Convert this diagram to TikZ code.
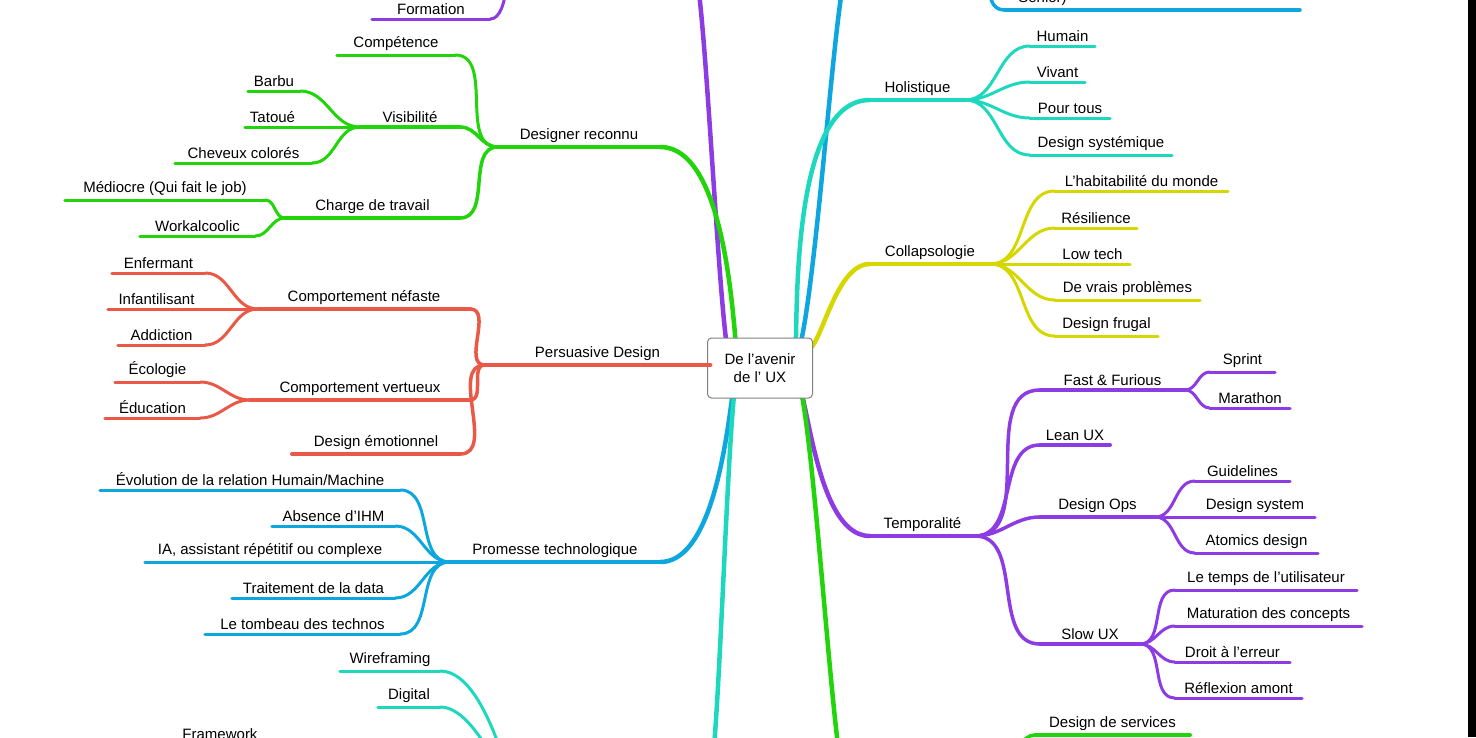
\documentclass[tikz,border=0pt]{standalone}
\usepackage{fontspec}
\setmainfont{Liberation Sans}
\usetikzlibrary{backgrounds,positioning}
\definecolor{cpurple}{RGB}{140,60,226}
\definecolor{cgreen}{RGB}{34,212,10}
\definecolor{cred}{RGB}{234,88,72}
\definecolor{cblue}{RGB}{14,166,222}
\definecolor{cteal}{RGB}{30,216,190}
\definecolor{cyellow}{RGB}{214,214,0}
\tikzset{
  lbl/.style={anchor=south,inner xsep=0pt,inner ysep=4pt,font=\fontsize{15}{17}\selectfont},
  main/.style={line width=4.5pt,line cap=round},
  sub/.style={line width=3.5pt,line cap=round},
  leaf/.style={line width=3pt,line cap=round},
}
% underlined topic: name, line style, x1, x2, y, text
\newcommand\topic[6]{%
  \node[lbl,minimum width=#4pt-#3pt] (#1) at ({(#3+#4)/2},#5) {#6};
  \draw[#2] (#1.south west) -- (#1.south east);}
% links to the left and to the right
\newcommand\lk[3]{\draw[#1] (#2.south west) to[out=180,in=0] (#3.south east);}
\newcommand\rk[3]{\draw[#1] (#2.south east) to[out=0,in=180] (#3.south west);}

\begin{document}
\begin{tikzpicture}[x=1pt,y=-1pt]
  \useasboundingbox (0,0) rectangle (1476,737);
  \clip (0,0) rectangle (1476,737);

  \node[draw=gray,rounded corners=4pt,fill=white,minimum width=105pt,minimum height=60pt,
        align=center,font=\fontsize{15}{18}\selectfont,line width=1pt] (ctr) at (760,368) {De l'avenir\\de l' UX};

  % left side
  \topic{formation}{leaf,cpurple}{372}{490}{19}{Formation}
  \coordinate (ptop) at (690,-10);
  \coordinate (pform) at (510,-30);

  \topic{designer}{main,cgreen}{498}{660}{147}{Designer reconnu}
  \topic{competence}{leaf,cgreen}{337}{455}{55}{Compétence}
  \topic{visibilite}{sub,cgreen}{360}{460}{127}{Visibilité}
  \topic{charge}{sub,cgreen}{285}{460}{218}{Charge de travail}
  \topic{barbu}{leaf,cgreen}{248}{300}{91}{Barbu}
  \topic{tatoue}{leaf,cgreen}{245}{300}{127}{Tatoué}
  \topic{cheveux}{leaf,cgreen}{175}{312}{163}{Cheveux colorés}
  \topic{mediocre}{leaf,cgreen}{65}{265}{200}{Médiocre (Qui fait le job)}
  \topic{workal}{leaf,cgreen}{140}{255}{236}{Workalcoolic}

  \topic{persuasive}{main,cred}{485}{710}{365}{Persuasive Design}
  \topic{nefaste}{sub,cred}{258}{470}{309}{Comportement néfaste}
  \topic{vertueux}{sub,cred}{250}{470}{400}{Comportement vertueux}
  \topic{emotion}{sub,cred}{292}{460}{454}{Design émotionnel}
  \topic{enfermant}{leaf,cred}{112}{205}{273}{Enfermant}
  \topic{infantil}{leaf,cred}{108}{205}{309}{Infantilisant}
  \topic{addiction}{leaf,cred}{118}{205}{345}{Addiction}
  \topic{ecologie}{leaf,cred}{115}{200}{382}{Écologie}
  \topic{education}{leaf,cred}{105}{200}{418}{Éducation}

  \topic{promesse}{main,cblue}{450}{660}{562}{Promesse technologique}
  \topic{evolution}{leaf,cblue}{100}{400}{490}{Évolution de la relation Humain/Machine}
  \topic{ihm}{leaf,cblue}{272}{395}{526}{Absence d'IHM}
  \topic{ia}{leaf,cblue}{145}{395}{562}{IA, assistant répétitif ou complexe}
  \topic{data}{leaf,cblue}{232}{395}{598}{Traitement de la data}
  \topic{tombeau}{leaf,cblue}{205}{400}{634}{Le tombeau des technos}

  \topic{wireframing}{leaf,cteal}{340}{440}{671}{Wireframing}
  \topic{digital}{leaf,cteal}{378}{440}{707}{Digital}
  \topic{framework}{leaf,cteal}{170}{270}{744}{Framework}
  \coordinate (tbot) at (705,760);
  \coordinate (tsub) at (520,790);

  % right side
  \topic{senior}{sub,cblue}{1005}{1080}{10}{Senior)}
  \coordinate (seniorend) at (1300,10);
  \coordinate (btop) at (852,-10);
  \coordinate (bsub) at (990,-40);

  \topic{holistique}{main,cteal}{870}{965}{100}{Holistique}
  \topic{humain}{leaf,cteal}{1030}{1095}{46}{Humain}
  \topic{vivant}{leaf,cteal}{1030}{1085}{82}{Vivant}
  \topic{pourtous}{leaf,cteal}{1030}{1110}{118}{Pour tous}
  \topic{systemique}{leaf,cteal}{1030}{1172}{155}{Design systémique}

  \topic{collapso}{main,cyellow}{870}{990}{264}{Collapsologie}
  \topic{habit}{leaf,cyellow}{1055}{1228}{191}{L'habitabilité du monde}
  \topic{resilience}{leaf,cyellow}{1055}{1137}{228}{Résilience}
  \topic{lowtech}{leaf,cyellow}{1055}{1130}{264}{Low tech}
  \topic{vrais}{leaf,cyellow}{1055}{1200}{300}{De vrais problèmes}
  \topic{frugal}{leaf,cyellow}{1055}{1158}{336}{Design frugal}

  \topic{tempo}{main,cpurple}{870}{975}{536}{Temporalité}
  \topic{fast}{sub,cpurple}{1040}{1185}{390}{Fast \& Furious}
  \topic{lean}{sub,cpurple}{1040}{1110}{445}{Lean UX}
  \topic{ops}{sub,cpurple}{1040}{1155}{517}{Design Ops}
  \topic{slow}{sub,cpurple}{1040}{1140}{644}{Slow UX}
  \topic{sprint}{leaf,cpurple}{1210}{1275}{372}{Sprint}
  \topic{marathon}{leaf,cpurple}{1210}{1290}{408}{Marathon}
  \topic{guidelines}{leaf,cpurple}{1195}{1290}{481}{Guidelines}
  \topic{dsystem}{leaf,cpurple}{1195}{1315}{517}{Design system}
  \topic{atomics}{leaf,cpurple}{1195}{1318}{553}{Atomics design}
  \topic{temps}{leaf,cpurple}{1175}{1357}{590}{Le temps de l'utilisateur}
  \topic{maturation}{leaf,cpurple}{1175}{1362}{626}{Maturation des concepts}
  \topic{droit}{leaf,cpurple}{1175}{1290}{662}{Droit à l'erreur}
  \topic{reflexion}{leaf,cpurple}{1175}{1302}{698}{Réflexion amont}

  \topic{services}{sub,cgreen}{1035}{1190}{735}{Design de services}
  \coordinate (gbot) at (850,760);
  \coordinate (gsub) at (1000,790);

  \begin{scope}[on background layer]
    % branches out of the centre
    \draw[main,cpurple] (ctr.north) ++(-25,5) to[out=-95,in=85] (ptop);
    \draw[main,cgreen] (ctr.north) ++(-20,5) to[out=-95,in=0] (designer.south east);
    \draw[main,cblue] (ctr.south) ++(-22,-5) to[out=95,in=0] (promesse.south east);
    \draw[main,cteal] (ctr.south) ++(-18,-5) to[out=95,in=-85] (tbot);
    \draw[main,cblue] (ctr.north) ++(25,5) to[out=-80,in=95] (btop);
    \draw[main,cteal] (ctr.north) ++(30,5) to[out=-80,in=180] (holistique.south west);
    \draw[main,cyellow] (ctr.north) ++(40,5) to[out=-65,in=180] (collapso.south west);
    \draw[main,cpurple] (ctr.south) ++(30,-5) to[out=75,in=180] (tempo.south west);
    \draw[main,cgreen] (ctr.south) ++(28,-5) to[out=82,in=-95] (gbot);
    % left links
    \draw[leaf,cpurple] (formation.south east) to[out=0,in=100] (pform);
    \lk{leaf,cgreen}{designer}{competence}
    \lk{sub,cgreen}{designer}{visibilite}
    \lk{sub,cgreen}{designer}{charge}
    \lk{leaf,cgreen}{visibilite}{barbu}
    \lk{leaf,cgreen}{visibilite}{tatoue}
    \lk{leaf,cgreen}{visibilite}{cheveux}
    \lk{leaf,cgreen}{charge}{mediocre}
    \lk{leaf,cgreen}{charge}{workal}
    \lk{sub,cred}{persuasive}{nefaste}
    \lk{sub,cred}{persuasive}{vertueux}
    \lk{sub,cred}{persuasive}{emotion}
    \lk{leaf,cred}{nefaste}{enfermant}
    \lk{leaf,cred}{nefaste}{infantil}
    \lk{leaf,cred}{nefaste}{addiction}
    \lk{leaf,cred}{vertueux}{ecologie}
    \lk{leaf,cred}{vertueux}{education}
    \lk{leaf,cblue}{promesse}{evolution}
    \lk{leaf,cblue}{promesse}{ihm}
    \lk{leaf,cblue}{promesse}{ia}
    \lk{leaf,cblue}{promesse}{data}
    \lk{leaf,cblue}{promesse}{tombeau}
    \draw[leaf,cteal] (tsub) to[out=-90,in=0] (wireframing.south east);
    \draw[leaf,cteal] (tsub) to[out=-90,in=0] (digital.south east);
    % right links
    \draw[sub,cblue] (bsub) to[out=-90,in=180] (senior.south west);
    \draw[sub,cblue] (senior.south east) -- (seniorend);
    \rk{leaf,cteal}{holistique}{humain}
    \rk{leaf,cteal}{holistique}{vivant}
    \rk{leaf,cteal}{holistique}{pourtous}
    \rk{leaf,cteal}{holistique}{systemique}
    \rk{leaf,cyellow}{collapso}{habit}
    \rk{leaf,cyellow}{collapso}{resilience}
    \rk{leaf,cyellow}{collapso}{lowtech}
    \rk{leaf,cyellow}{collapso}{vrais}
    \rk{leaf,cyellow}{collapso}{frugal}
    \rk{sub,cpurple}{tempo}{fast}
    \rk{sub,cpurple}{tempo}{lean}
    \rk{sub,cpurple}{tempo}{ops}
    \rk{sub,cpurple}{tempo}{slow}
    \rk{leaf,cpurple}{fast}{sprint}
    \rk{leaf,cpurple}{fast}{marathon}
    \rk{leaf,cpurple}{ops}{guidelines}
    \rk{leaf,cpurple}{ops}{dsystem}
    \rk{leaf,cpurple}{ops}{atomics}
    \rk{leaf,cpurple}{slow}{temps}
    \rk{leaf,cpurple}{slow}{maturation}
    \rk{leaf,cpurple}{slow}{droit}
    \rk{leaf,cpurple}{slow}{reflexion}
    \draw[sub,cgreen] (gsub) to[out=-90,in=180] (services.south west);
  \end{scope}

  \fill[black] (1468,0) rectangle (1476,737);
\end{tikzpicture}
\end{document}
